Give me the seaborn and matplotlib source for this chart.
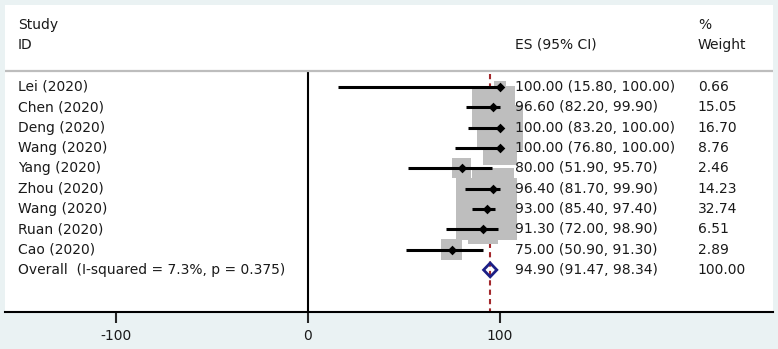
import numpy as np
import matplotlib
matplotlib.use("Agg")
import matplotlib.pyplot as plt
import seaborn as sns

# Dados do forest plot
estudos = ["Lei (2020)", "Chen (2020)", "Deng (2020)", "Wang (2020)", "Yang (2020)",
           "Zhou (2020)", "Wang (2020)", "Ruan (2020)", "Cao (2020)"]
es = [100.00, 96.60, 100.00, 100.00, 80.00, 96.40, 93.00, 91.30, 75.00]
ic_inf = [15.80, 82.20, 83.20, 76.80, 51.90, 81.70, 85.40, 72.00, 50.90]
ic_sup = [100.00, 99.90, 100.00, 100.00, 95.70, 99.90, 97.40, 98.90, 91.30]
pesos = [0.66, 15.05, 16.70, 8.76, 2.46, 14.23, 32.74, 6.51, 2.89]
geral_es, geral_inf, geral_sup = 94.90, 91.47, 98.34
geral_label = "Overall  (I-squared = 7.3%, p = 0.375)"
ticks = [-100, 0, 100]

sns.set_style("white")
plt.rcParams['font.family'] = ['DejaVu Sans']
plt.rcParams['font.size'] = 10

fig = plt.figure(figsize=(7.78, 3.49), dpi=100, facecolor="#EAF2F3")
ax = fig.add_axes([5 / 778, 37 / 349, 768 / 778, 307 / 349])
ax.set_facecolor("white")

linhas = np.arange(len(estudos))
linha_geral = len(estudos)

ax.set_xlim(-157.8, 242.2)
ax.set_ylim(11.07, -4.03)

# Quadrados cinzas (área proporcional ao peso, com contorno)
lado_px = 10.1 * np.sqrt(np.array(pesos)) + 3.8
tam = (lado_px * 0.72) ** 2
sns.scatterplot(x=es, y=linhas, s=tam, marker="s", color="#BEBEBE",
                linewidth=0, ax=ax, zorder=3, legend=False)

# Linha de referência (efeito geral)
ax.vlines(geral_es, -0.64, 11.07, colors="#A3282C", linestyles=(0, (2.5, 2)),
          linewidth=1.5, zorder=2)

# Linha do zero e linha do cabeçalho
ax.vlines(0, -0.79, 11.07, colors="black", linewidth=1.5, zorder=2)
ax.axhline(-0.79, color="#BDBDBD", linewidth=1.6, zorder=2)

# Intervalos de confiança e estimativas
ax.hlines(linhas, ic_inf, ic_sup, colors="black", linewidth=2.2, zorder=4)
sns.scatterplot(x=es, y=linhas, s=24, marker="D", color="black",
                linewidth=0, ax=ax, zorder=5, legend=False)

# Diamante do efeito geral
h = 0.34
ax.fill([geral_inf, geral_es, geral_sup, geral_es],
        [linha_geral, linha_geral - h, linha_geral, linha_geral + h],
        facecolor="none", edgecolor="#1C1F86", linewidth=2.0, zorder=6)

# Textos
cor_txt = "#1a1a1a"
x_id, x_es, x_peso = -151, 107.8, 203.1
ax.text(x_id, -3.05, "Study", va="center", color=cor_txt)
ax.text(x_id, -2.07, "ID", va="center", color=cor_txt)
ax.text(x_es, -2.07, "ES (95% CI)", va="center", color=cor_txt)
ax.text(x_peso, -3.05, "%", va="center", color=cor_txt)
ax.text(x_peso, -2.07, "Weight", va="center", color=cor_txt)

for i in linhas:
    ax.text(x_id, i, estudos[i], va="center", color=cor_txt)
    ax.text(x_es, i, f"{es[i]:.2f} ({ic_inf[i]:.2f}, {ic_sup[i]:.2f})", va="center", color=cor_txt)
    ax.text(x_peso, i, f"{pesos[i]:.2f}", va="center", color=cor_txt)

ax.text(x_id, linha_geral, geral_label, va="center", color=cor_txt)
ax.text(x_es, linha_geral, f"{geral_es:.2f} ({geral_inf:.2f}, {geral_sup:.2f})", va="center", color=cor_txt)
ax.text(x_peso, linha_geral, f"{100:.2f}", va="center", color=cor_txt)

# Eixos
ax.set_xticks(ticks)
ax.set_xticklabels([str(t) for t in ticks], color=cor_txt)
ax.set_yticks([])
ax.tick_params(axis="x", length=8, width=1.5, pad=4, direction="out", bottom=True)
for lado in ["top", "left", "right"]:
    ax.spines[lado].set_visible(False)
ax.spines["bottom"].set_color("black")
ax.spines["bottom"].set_linewidth(1.5)

fig.savefig("out.png", dpi=100, facecolor=fig.get_facecolor())
